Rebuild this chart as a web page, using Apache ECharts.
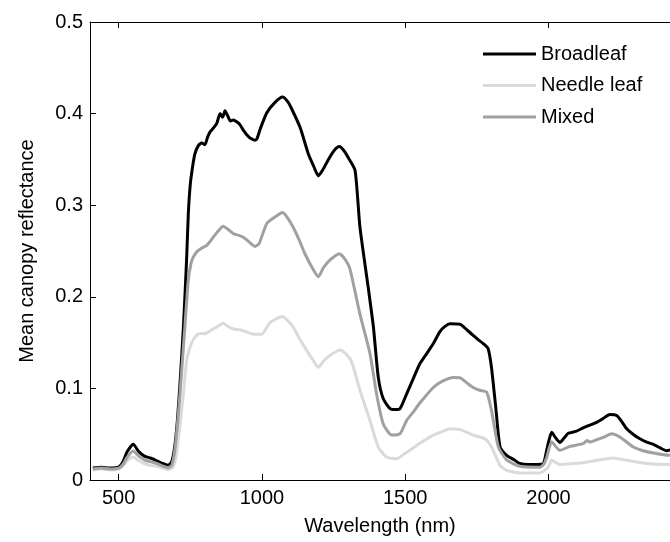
<!DOCTYPE html>
<html>
<head>
<meta charset="utf-8">
<script src="https://cdn.jsdelivr.net/npm/echarts@6/dist/echarts.min.js"></script>
<style>
  html, body { margin: 0; padding: 0; background: #fff; }
  #chart { width: 670px; height: 542px; }
</style>
</head>
<body>
<div id="chart"></div>
<script>
// wavelength (nm) / mean canopy reflectance
const broadleafWl = [410,440,470,500,515,530,551,570,590,610,633,655,673,685,695,705,715,726,737,743,750,758,766,778,790,801,810,819,830,842,854,863,871,880,890,900,912,923,935,947,960,976,982,995,1017,1045,1072,1090,1104,1133,1162,1180,1197,1215,1232,1250,1270,1285,1301,1325,1342,1371,1389,1406,1423,1447,1465,1482,1505,1530,1551,1575,1598,1621,1640,1656,1691,1715,1737,1755,1772,1789,1801,1817,1831,1854,1880,1900,1930,1959,1982,1992,1999,2011,2025,2040,2055,2069,2095,2121,2145,2168,2190,2214,2238,2255,2273,2295,2319,2345,2366,2390,2412,2440]
const broadleafR = [0.013,0.014,0.013,0.014,0.020,0.031,0.039,0.031,0.026,0.024,0.021,0.018,0.016,0.020,0.035,0.065,0.110,0.167,0.240,0.290,0.323,0.342,0.356,0.365,0.368,0.366,0.374,0.380,0.384,0.389,0.400,0.396,0.403,0.398,0.392,0.393,0.391,0.388,0.382,0.377,0.373,0.371,0.372,0.384,0.401,0.412,0.418,0.413,0.405,0.385,0.356,0.343,0.332,0.340,0.350,0.359,0.364,0.360,0.352,0.338,0.276,0.210,0.167,0.112,0.089,0.078,0.077,0.078,0.094,0.112,0.127,0.138,0.149,0.162,0.168,0.1705,0.170,0.164,0.158,0.153,0.149,0.1435,0.123,0.076,0.036,0.027,0.022,0.018,0.017,0.017,0.018,0.030,0.040,0.052,0.046,0.041,0.046,0.051,0.053,0.057,0.060,0.063,0.067,0.0716,0.0705,0.064,0.056,0.050,0.045,0.041,0.039,0.035,0.032,0.034]

const needleWl = [410,440,470,500,515,530,551,570,590,610,633,655,673,690,700,714,726,737,749,760,772,785,801,815,830,848,865,880,900,935,960,976,998,1028,1050,1072,1090,1109,1130,1156,1180,1197,1215,1237,1272,1295,1313,1342,1377,1406,1435,1470,1495,1516,1551,1598,1630,1656,1691,1737,1778,1801,1831,1854,1900,1970,1999,2011,2040,2110,2160,2203,2226,2273,2343,2418,2440]
const needleR = [0.011,0.012,0.011,0.012,0.015,0.021,0.025,0.021,0.018,0.016,0.015,0.013,0.0113,0.014,0.025,0.060,0.094,0.1305,0.145,0.153,0.158,0.160,0.1597,0.162,0.165,0.168,0.171,0.168,0.165,0.163,0.160,0.159,0.159,0.172,0.176,0.1785,0.174,0.167,0.155,0.1415,0.130,0.123,0.130,0.136,0.142,0.137,0.129,0.098,0.065,0.036,0.025,0.0233,0.028,0.0324,0.040,0.049,0.053,0.056,0.055,0.049,0.045,0.036,0.016,0.0106,0.0077,0.0077,0.014,0.0215,0.017,0.0185,0.021,0.0233,0.024,0.0215,0.018,0.017,0.017]

const mixedWl = [410,440,470,500,515,530,551,570,590,610,633,655,673,685,695,705,714,731,743,752,760,772,784,795,807,818,830,848,865,880,900,920,935,955,976,990,1017,1045,1072,1090,1109,1130,1150,1175,1197,1215,1237,1270,1290,1307,1342,1377,1400,1423,1453,1482,1505,1530,1551,1598,1630,1668,1691,1715,1737,1760,1784,1801,1825,1854,1900,1970,1985,1994,2011,2040,2075,2121,2135,2144,2168,2195,2220,2249,2296,2330,2366,2418,2440]
const mixedR = [0.012,0.013,0.012,0.013,0.017,0.025,0.0316,0.026,0.022,0.020,0.018,0.015,0.0135,0.016,0.030,0.060,0.094,0.167,0.218,0.236,0.243,0.249,0.252,0.254,0.256,0.260,0.265,0.272,0.277,0.274,0.269,0.267,0.265,0.260,0.255,0.258,0.280,0.287,0.292,0.286,0.276,0.262,0.247,0.232,0.222,0.232,0.240,0.247,0.241,0.2305,0.181,0.138,0.094,0.0615,0.049,0.0506,0.065,0.075,0.084,0.101,0.108,0.112,0.1117,0.106,0.101,0.098,0.096,0.076,0.036,0.022,0.015,0.014,0.018,0.025,0.0415,0.0324,0.0367,0.0397,0.043,0.0415,0.044,0.047,0.0506,0.047,0.036,0.032,0.0295,0.027,0.028]

const xTicks = [500, 1000, 1500, 2000]
const yTicks = [0, 0.1, 0.2, 0.3, 0.4, 0.5]

const font = 'Liberation Sans, Arial, sans-serif'
const zip = (xs, ys) => xs.map((x, i) => [x, ys[i]])

const chart = echarts.init(document.getElementById('chart'), null, { renderer: 'canvas' })

const mkLine = (name, xs, ys, color) => ({
  name,
  type: 'line',
  data: zip(xs, ys),
  showSymbol: false,
  symbol: 'none',
  smooth: 0.2,
  lineStyle: { color, width: 3 },
  itemStyle: { color },
})

// the reference is cropped on the right, so the visible axis stops near 2424 nm
const xCommon = {
  type: 'value',
  min: 400,
  max: 2424,
  splitLine: { show: false },
  axisLine: { onZero: false, lineStyle: { color: '#000', width: 1 } },
  axisTick: { inside: true, length: 6, customValues: xTicks, lineStyle: { color: '#000' } },
}

chart.setOption({
  animation: false,
  backgroundColor: '#fff',
  textStyle: { fontFamily: font },
  grid: { left: 90, top: 22, right: 0, bottom: 62 },
  legend: {
    orient: 'vertical',
    left: 478,
    top: 39,
    icon: 'rect',
    itemWidth: 53,
    itemHeight: 3,
    itemGap: 11.5,
    textStyle: { fontSize: 20, color: '#000', fontFamily: font, lineHeight: 20 },
    data: ['Broadleaf', 'Needle leaf', 'Mixed'],
  },
  xAxis: [
    {
      ...xCommon,
      position: 'bottom',
      name: 'Wavelength (nm)',
      nameLocation: 'middle',
      nameGap: 36,
      nameTextStyle: { fontSize: 20, color: '#000', fontFamily: font },
      axisLabel: { customValues: xTicks, fontSize: 20, color: '#000', margin: 8, fontFamily: font, formatter: v => String(v) },
    },
    {
      ...xCommon,
      position: 'top',
      axisLabel: { show: false },
    },
  ],
  yAxis: {
    type: 'value',
    min: 0,
    max: 0.5,
    interval: 0.1,
    name: 'Mean canopy reflectance',
    nameLocation: 'middle',
    nameGap: 53,
    nameTextStyle: { fontSize: 20, color: '#000', fontFamily: font },
    splitLine: { show: false },
    axisLine: { show: true, lineStyle: { color: '#000', width: 1 } },
    axisTick: { show: true, inside: true, length: 6, lineStyle: { color: '#000' } },
    axisLabel: {
      fontSize: 20, color: '#000', margin: 7, fontFamily: font,
      formatter: v => yTicks.includes(+v.toFixed(1)) ? String(+v.toFixed(1)) : '',
    },
  },
  series: [
    mkLine('Broadleaf', broadleafWl, broadleafR, '#000000'),
    mkLine('Needle leaf', needleWl, needleR, '#dadada'),
    mkLine('Mixed', mixedWl, mixedR, '#a0a0a0'),
  ],
})
</script>
</body>
</html>
